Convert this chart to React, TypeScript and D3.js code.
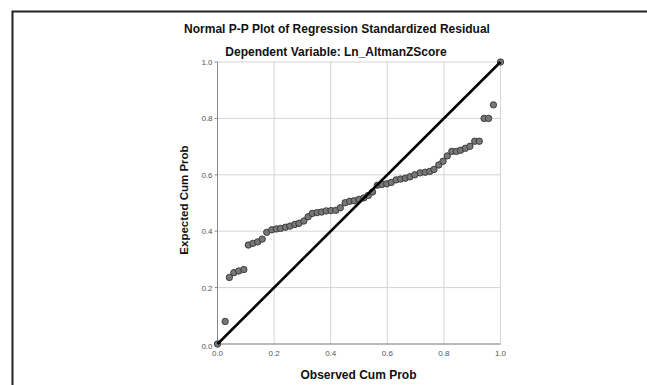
import { scaleLinear } from "d3";

// observed cum prob (x) and expected cum prob (y)
const observed = [
  0, 0.027, 0.042, 0.058, 0.075, 0.093, 0.109, 0.125, 0.142, 0.158, 0.174,
  0.192, 0.208, 0.223, 0.24, 0.256, 0.273, 0.288, 0.305, 0.32, 0.335, 0.352,
  0.368, 0.384, 0.401, 0.418, 0.434, 0.451, 0.467, 0.483, 0.5, 0.517, 0.533,
  0.548, 0.565, 0.581, 0.598, 0.614, 0.631, 0.647, 0.664, 0.68, 0.697, 0.716,
  0.734, 0.75, 0.765, 0.782, 0.797, 0.812, 0.828, 0.844, 0.859, 0.876, 0.892,
  0.909, 0.925, 0.942, 0.958, 0.975, 1,
];
const expected = [
  0, 0.08, 0.236, 0.253, 0.259, 0.264, 0.351, 0.357, 0.362, 0.372, 0.396,
  0.405, 0.408, 0.41, 0.414, 0.418, 0.424, 0.428, 0.436, 0.451, 0.463, 0.466,
  0.468, 0.472, 0.473, 0.474, 0.483, 0.501, 0.506, 0.508, 0.513, 0.518, 0.527,
  0.539, 0.563, 0.566, 0.568, 0.573, 0.582, 0.585, 0.588, 0.593, 0.6, 0.607,
  0.609, 0.612, 0.619, 0.635, 0.648, 0.667, 0.683, 0.683, 0.687, 0.694,
  0.701, 0.719, 0.719, 0.8, 0.8, 0.848, 1,
];
const ticks = [0, 0.2, 0.4, 0.6, 0.8, 1.0];

const title = "Normal P-P Plot of Regression Standardized Residual";
const subtitle = "Dependent Variable: Ln_AltmanZScore";
const xLabel = "Observed Cum Prob";
const yLabel = "Expected Cum Prob";

const W = 647;
const H = 385;
const font = "'Liberation Sans', Arial, sans-serif";

export default function App() {
  const x = scaleLinear().domain([0, 1]).range([217.5, 500.5]);
  const y = scaleLinear().domain([0, 1]).range([344, 62]);

  return (
    <svg
      width={W}
      height={H}
      style={{ position: "absolute", left: 0, top: 0, background: "#fff" }}
      fontFamily={font}
    >
      {/* outer frame */}
      <path d={`M12.5,${H} V11.5 H${W}`} fill="none" stroke="#222" strokeWidth={2} />

      <text x={337} y={33} textAnchor="middle" fontSize={12} fontWeight="bold" fill="#111">
        {title}
      </text>
      <text x={336} y={56} textAnchor="middle" fontSize={12} fontWeight="bold" fill="#111">
        {subtitle}
      </text>

      {/* grid */}
      {ticks.map((t) => (
        <line key={"gx" + t} x1={x(t)} x2={x(t)} y1={y(0)} y2={y(1)} stroke="#d4d4d4" />
      ))}
      {ticks.map((t) => (
        <line key={"gy" + t} x1={x(0)} x2={x(1)} y1={y(t)} y2={y(t)} stroke="#d4d4d4" />
      ))}

      {/* axes */}
      <line x1={x(0)} x2={x(0)} y1={y(0)} y2={y(1)} stroke="#8a8a8a" />
      <line x1={x(0)} x2={x(1)} y1={y(0)} y2={y(0)} stroke="#8a8a8a" />
      {ticks.map((t) => (
        <g key={"ty" + t}>
          <line x1={x(0) - 3} x2={x(0)} y1={y(t)} y2={y(t)} stroke="#8a8a8a" />
          <text
            x={x(0) - 5}
            y={y(t) + (t === 0 ? 4.5 : 3)}
            textAnchor="end"
            fontSize={8}
            fill="#555"
          >
            {t.toFixed(1)}
          </text>
        </g>
      ))}
      {ticks.map((t) => (
        <text key={"tx" + t} x={x(t)} y={y(0) + 12} textAnchor="middle" fontSize={8} fill="#555">
          {t.toFixed(1)}
        </text>
      ))}

      <text x={358.5} y={378.5} textAnchor="middle" fontSize={12} fontWeight="bold" fill="#111">
        {xLabel}
      </text>
      <text
        transform={`translate(188,200) rotate(-90)`}
        textAnchor="middle"
        fontSize={11.5}
        fontWeight="bold"
        fill="#111"
      >
        {yLabel}
      </text>

      {/* points */}
      {observed.map((p, i) => (
        <circle
          key={i}
          cx={x(p)}
          cy={y(expected[i])}
          r={3.2}
          fill="#777"
          stroke="#333"
          strokeWidth={0.9}
        />
      ))}

      {/* reference line */}
      <line x1={x(0)} y1={y(0)} x2={x(1)} y2={y(1)} stroke="#000" strokeWidth={2.6} />
    </svg>
  );
}
